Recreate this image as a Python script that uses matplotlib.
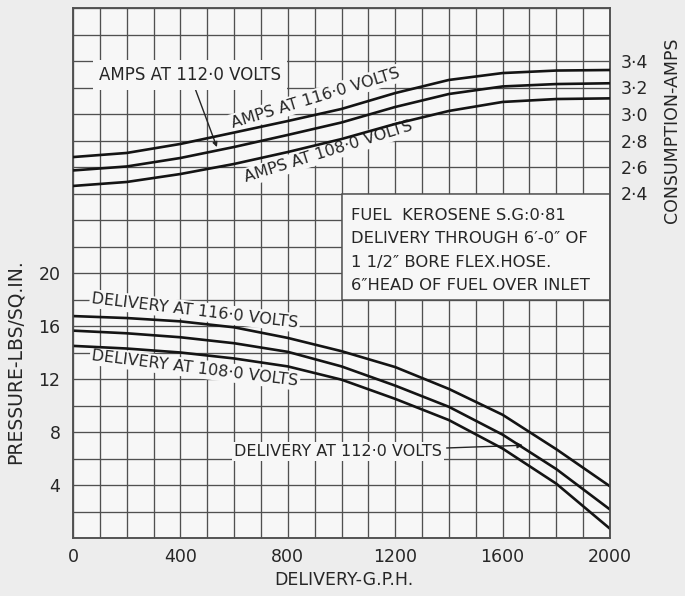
import matplotlib.pyplot as plt
from matplotlib.patches import Rectangle
import numpy as np

plt.rcParams['font.family'] = ['DejaVu Sans']

# delivery in gallons per hour
delivery_gph = [0, 200, 400, 600, 800, 1000, 1200, 1400, 1600, 1800, 2000]

# pressure (lbs/sq.in.) at each supply voltage
pressure_116v = [16.75, 16.6, 16.35, 15.9, 15.1, 14.1, 12.9, 11.25, 9.3, 6.7, 3.9]
pressure_112v = [15.65, 15.45, 15.15, 14.7, 14.05, 12.95, 11.5, 9.9, 7.8, 5.2, 2.15]
pressure_108v = [14.5, 14.3, 14.0, 13.55, 12.95, 11.95, 10.5, 8.9, 6.75, 4.1, 0.7]

# current consumption (amps) at each supply voltage
amps_116v = [2.675, 2.706, 2.774, 2.860, 2.947, 3.038, 3.158, 3.257, 3.309, 3.328, 3.332]
amps_112v = [2.574, 2.604, 2.668, 2.751, 2.842, 2.936, 3.053, 3.151, 3.208, 3.226, 3.232]
amps_108v = [2.457, 2.487, 2.547, 2.623, 2.713, 2.811, 2.925, 3.023, 3.091, 3.113, 3.118]

x_tick_values = [0, 400, 800, 1200, 1600, 2000]
pressure_tick_values = [4, 8, 12, 16, 20]
amps_ticks = [2.4, 2.6, 2.8, 3.0, 3.2, 3.4]
amps_tick_labels = ['2·4', '2·6', '2·8', '3·0', '3·2', '3·4']

note = ('FUEL  KEROSENE S.G:0·81\n'
        'DELIVERY THROUGH 6′-0″ OF\n'
        '1 1/2″ BORE FLEX.HOSE.\n'
        '6″HEAD OF FUEL OVER INLET')

paper = '#ededed'
face = '#f7f7f7'
ink = '#262626'
gridc = '#505050'
curve = '#141414'
lbl_box = dict(boxstyle='square,pad=0.12', fc=face, ec='none')

fig = plt.figure(figsize=(6.85, 5.96), dpi=100, facecolor=paper)
ax = fig.add_axes([73 / 685, 58 / 596, 537 / 685, 530 / 596], facecolor=face)

ax.set_xlim(0, 2000)
ax.set_ylim(0, 40)
xt = np.arange(0, 2001, 100)
ax.set_xticks(xt, [str(v) if v in x_tick_values else '' for v in xt])
yt = np.arange(0, 41, 2)
ax.set_yticks(yt, [str(v) if v in pressure_tick_values else '' for v in yt])
ax.grid(True, color=gridc, lw=0.95)
ax.set_axisbelow(True)
ax.tick_params(axis='x', length=0, labelsize=12.5, colors=ink, pad=7)
ax.tick_params(axis='y', length=0, labelsize=12.5, colors=ink, pad=9)
for s in ax.spines.values():
    s.set_color(gridc)
    s.set_linewidth(1.1)

# note box
ax.add_patch(Rectangle((1000, 18), 1000, 8, fc=face, ec=gridc, lw=1.1, zorder=1))
ax.text(1035, 21.7, note, ha='left', va='center', fontsize=11.8, color=ink,
        linespacing=1.72, zorder=2)

# delivery curves
for p in [pressure_116v, pressure_112v, pressure_108v]:
    ax.plot(delivery_gph, p, color=curve, lw=1.9, zorder=3)

ax.text(454, 17.15, 'DELIVERY AT 116·0 VOLTS', rotation=-6.8, rotation_mode='anchor',
        ha='center', va='center', fontsize=11.5, color=ink, bbox=lbl_box, zorder=2)
ax.text(454, 12.8, 'DELIVERY AT 108·0 VOLTS', rotation=-7.1, rotation_mode='anchor',
        ha='center', va='center', fontsize=11.5, color=ink, bbox=lbl_box, zorder=2)
ax.annotate('DELIVERY AT 112·0 VOLTS', xy=(1676, 7.0), xytext=(987, 6.5),
            ha='center', va='center', fontsize=11.5, color=ink, bbox=lbl_box, zorder=2,
            arrowprops=dict(arrowstyle='-|>', color=ink, lw=1.0, mutation_scale=8,
                            shrinkA=2, shrinkB=0))

# amps curves on the right-hand scale
ax2 = ax.twinx()
ax2.set_ylim(-0.2, 3.8)
ax2.set_yticks(amps_ticks, amps_tick_labels)
ax2.tick_params(axis='y', length=0, labelsize=12.5, colors=ink, pad=8)
for s in ax2.spines.values():
    s.set_color(gridc)
    s.set_linewidth(1.1)

for a in [amps_116v, amps_112v, amps_108v]:
    ax2.plot(delivery_gph, a, color=curve, lw=1.9, zorder=3)

ax2.text(905, 3.12, 'AMPS AT 116·0 VOLTS', rotation=16.9, rotation_mode='anchor',
         ha='center', va='center', fontsize=11.5, color=ink, bbox=lbl_box, zorder=2)
ax2.text(950, 2.713, 'AMPS AT 108·0 VOLTS', rotation=17.3, rotation_mode='anchor',
         ha='center', va='center', fontsize=11.5, color=ink, bbox=lbl_box, zorder=2)
ax2.annotate('AMPS AT 112·0 VOLTS', xy=(536, 2.75), xytext=(436, 3.294),
             ha='center', va='center', fontsize=12, color=ink,
             bbox=dict(boxstyle='square,pad=0.35', fc=face, ec='none'), zorder=2,
             arrowprops=dict(arrowstyle='-|>', color=ink, lw=1.0, mutation_scale=7,
                             shrinkA=0, shrinkB=0))

# axis titles
fig.text(15 / 685, 1 - 362 / 596, 'PRESSURE-LBS/SQ.IN.', rotation=90,
         ha='center', va='center', fontsize=13.5, color=ink)
fig.text(672 / 685, 1 - 130 / 596, 'CONSUMPTION-AMPS', rotation=90,
         ha='center', va='center', fontsize=12.5, color=ink)
fig.text(344 / 685, 1 - 580 / 596, 'DELIVERY-G.P.H.',
         ha='center', va='center', fontsize=12.5, color=ink)

fig.savefig('out.png', dpi=100, facecolor=paper)
